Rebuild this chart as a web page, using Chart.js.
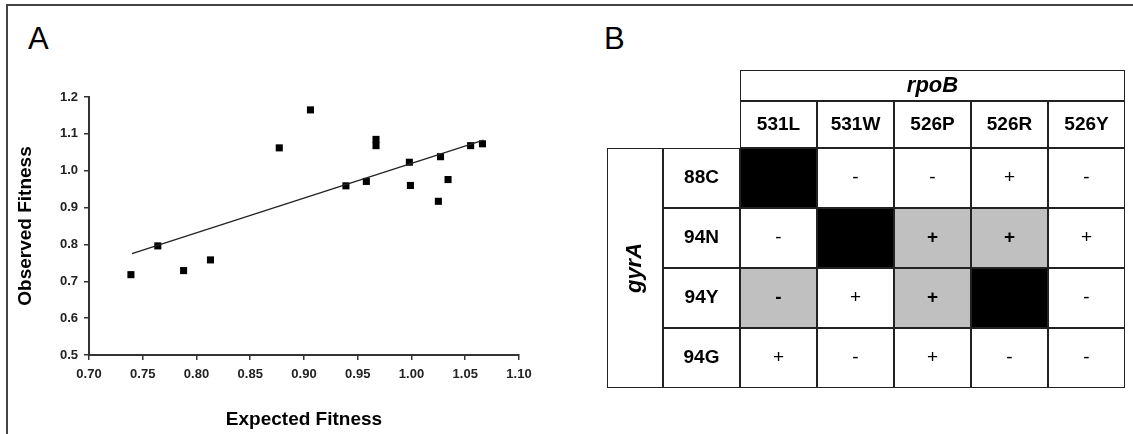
<!DOCTYPE html>
<html>
<head>
<meta charset="utf-8">
<script src="https://cdn.jsdelivr.net/npm/chart.js@4.4.0/dist/chart.umd.min.js"></script>
<style>
    html, body { margin: 0; padding: 0; background: #fff; }
    #fig { position: relative; width: 1133px; height: 434px; overflow: hidden; font-family: "Liberation Sans", Arial, sans-serif; }
    #frame { position: absolute; left: 6px; top: 4px; right: 0; bottom: -4px; border-top: 2px solid #444; border-left: 2px solid #444; }
    .panel-letter { position: absolute; top: 23px; font-size: 31px; line-height: 31px; color: #000; }
    canvas { position: absolute; }
</style>
</head>
<body>
<div id="fig">
    <div id="frame"></div>
    <div class="panel-letter" style="left:28px">A</div>
    <div class="panel-letter" style="left:604px">B</div>
    <canvas id="chartA" width="600" height="434" style="left:0;top:0"></canvas>
    <canvas id="chartGyr" width="56" height="318" style="left:607px;top:70px"></canvas>
    <canvas id="chartTable" width="462" height="318" style="left:663px;top:70px"></canvas>
</div>
<script>
// --- Panel A: expected vs observed fitness ---
const expectedFitness = [0.739, 0.764, 0.788, 0.813, 0.877, 0.906, 0.939, 0.958, 0.967, 0.967,
    0.998, 0.999, 1.025, 1.027, 1.034, 1.055, 1.066];
const observedFitness = [0.718, 0.796, 0.729, 0.758, 1.062, 1.165, 0.959, 0.971, 1.085, 1.068,
    1.023, 0.960, 0.917, 1.038, 0.976, 1.068, 1.073];
const trendX = [0.740, 1.067];
const trendY = [0.775, 1.083];

// --- Panel B: rpoB x gyrA combinations ---
const rpoBLabels = ['531L', '531W', '526P', '526R', '526Y'];
const gyrALabels = ['88C', '94N', '94Y', '94G'];
const cellMarks = [
    ['', '-', '-', '+', '-'],
    ['-', '', '+', '+', '+'],
    ['-', '+', '+', '', '-'],
    ['+', '-', '+', '-', '-']
];
// k = black, g = grey, w = white
const cellShades = [
    ['k', 'w', 'w', 'w', 'w'],
    ['w', 'k', 'g', 'g', 'w'],
    ['g', 'w', 'g', 'k', 'w'],
    ['w', 'w', 'w', 'w', 'w']
];

const FONT = '"Liberation Sans", Arial, sans-serif';
const SHADE_COLORS = { k: '#000000', g: '#c0c0c0', w: '#ffffff' };
const HEADER_H = 47 / 60;   // column label row, in body-row units
const TITLE_H = 31 / 60;    // rpoB row
const TABLE_MAX = gyrALabels.length + HEADER_H + TITLE_H;

const labelFont = 'bold 19px ' + FONT;
const italicFont = 'italic bold 22px ' + FONT;
const plainMark = '19px ' + FONT;
const boldMark = 'bold 19px ' + FONT;

const cellText = {
    id: 'cellText',
    afterDatasetsDraw(chart) {
        const ctx = chart.ctx;
        chart.data.datasets.forEach((ds, di) => {
            if (!ds.texts) return;
            chart.getDatasetMeta(di).data.forEach((el, j) => {
                const t = ds.texts[j];
                if (!t) return;
                const { x, y, base } = el.getProps(['x', 'y', 'base'], true);
                ctx.save();
                ctx.font = ds.fonts ? ds.fonts[j] : labelFont;
                ctx.fillStyle = '#000';
                ctx.textAlign = 'center';
                ctx.textBaseline = 'middle';
                ctx.translate(x, (y + base) / 2);
                if (ds.rotate) ctx.rotate(-Math.PI / 2);
                ctx.fillText(t, 0, 0);
                ctx.restore();
            });
        });
    }
};

const tableOptions = {
    responsive: false,
    animation: false,
    events: [],
    layout: { padding: 0 },
    plugins: { legend: { display: false }, tooltip: { enabled: false } },
    datasets: {
        bar: {
            grouped: false,
            barPercentage: 1,
            categoryPercentage: 1,
            borderSkipped: false,
            inflateAmount: 0,
            borderColor: '#222',
            borderWidth: 1
        }
    },
    scales: {
        x: { display: false },
        y: { display: false, min: 0, max: TABLE_MAX }
    }
};

new Chart(document.getElementById('chartA'), {
    type: 'scatter',
    data: {
        datasets: [{
            data: trendX.map((x, i) => ({ x: x, y: trendY[i] })),
            showLine: true,
            borderColor: '#222',
            borderWidth: 1.3,
            pointRadius: 0
        }, {
            data: expectedFitness.map((x, i) => ({ x: x, y: observedFitness[i] })),
            pointStyle: 'rect',
            pointRadius: 5,
            backgroundColor: '#000',
            borderWidth: 0
        }]
    },
    options: {
        responsive: false,
        animation: false,
        events: [],
        layout: { padding: { left: 8, right: 81, top: 97, bottom: 0 } },
        plugins: { legend: { display: false }, tooltip: { enabled: false } },
        scales: {
            x: {
                type: 'linear', min: 0.7, max: 1.1,
                ticks: {
                    stepSize: 0.05, padding: 7, color: '#222',
                    font: { family: FONT, size: 13, weight: 'bold' },
                    callback: (v) => v.toFixed(2)
                },
                grid: { drawOnChartArea: false, tickLength: 5, color: '#333', lineWidth: 1.5 },
                border: { color: '#333', width: 2 },
                title: {
                    display: true, text: 'Expected Fitness', color: '#000',
                    font: { family: FONT, size: 19, weight: 'bold' },
                    padding: { top: 0, bottom: 3 }
                },
                afterFit: (s) => { s.height = 79; }
            },
            y: {
                min: 0.5, max: 1.2,
                ticks: {
                    stepSize: 0.1, padding: 6, color: '#222',
                    font: { family: FONT, size: 13, weight: 'bold' },
                    callback: (v) => v.toFixed(1)
                },
                grid: { drawOnChartArea: false, tickLength: 5, color: '#333', lineWidth: 1.5 },
                border: { color: '#333', width: 2 },
                title: {
                    display: true, text: 'Observed Fitness', color: '#000',
                    font: { family: FONT, size: 19, weight: 'bold' },
                    padding: { top: 6, bottom: 0 }
                },
                afterFit: (s) => { s.width = 81; }
            }
        }
    }
});

// gyrA column (narrower, own canvas)
new Chart(document.getElementById('chartGyr'), {
    type: 'bar',
    data: {
        labels: ['gyrA'],
        datasets: [{
            data: [[0, gyrALabels.length]],
            backgroundColor: '#fff',
            texts: ['gyrA'],
            fonts: [italicFont],
            rotate: true
        }]
    },
    options: tableOptions,
    plugins: [cellText]
});

// header rows + body cells
const bodyTop = gyrALabels.length;
const tableDatasets = [{
    data: [null, ...rpoBLabels.map(() => [bodyTop + HEADER_H, TABLE_MAX])],
    backgroundColor: '#fff',
    borderWidth: (c) => ({
        top: 1, bottom: 1,
        left: c.dataIndex === 1 ? 1 : 0,
        right: c.dataIndex === rpoBLabels.length ? 1 : 0
    }),
    texts: [null, null, null, 'rpoB', null, null],
    fonts: [null, null, null, italicFont, null, null]
}, {
    data: [null, ...rpoBLabels.map(() => [bodyTop, bodyTop + HEADER_H])],
    backgroundColor: '#fff',
    texts: [null, ...rpoBLabels],
    fonts: [null, ...rpoBLabels.map(() => labelFont)]
}];
gyrALabels.forEach((r, i) => {
    const y0 = bodyTop - 1 - i;
    tableDatasets.push({
        data: [[y0, y0 + 1], ...rpoBLabels.map(() => [y0, y0 + 1])],
        backgroundColor: ['#fff', ...cellShades[i].map((s) => SHADE_COLORS[s])],
        texts: [r, ...cellMarks[i]],
        fonts: [labelFont, ...cellShades[i].map((s) => s === 'g' ? boldMark : plainMark)]
    });
});

new Chart(document.getElementById('chartTable'), {
    type: 'bar',
    data: { labels: ['', ...rpoBLabels], datasets: tableDatasets },
    options: tableOptions,
    plugins: [cellText]
});
</script>
</body>
</html>
